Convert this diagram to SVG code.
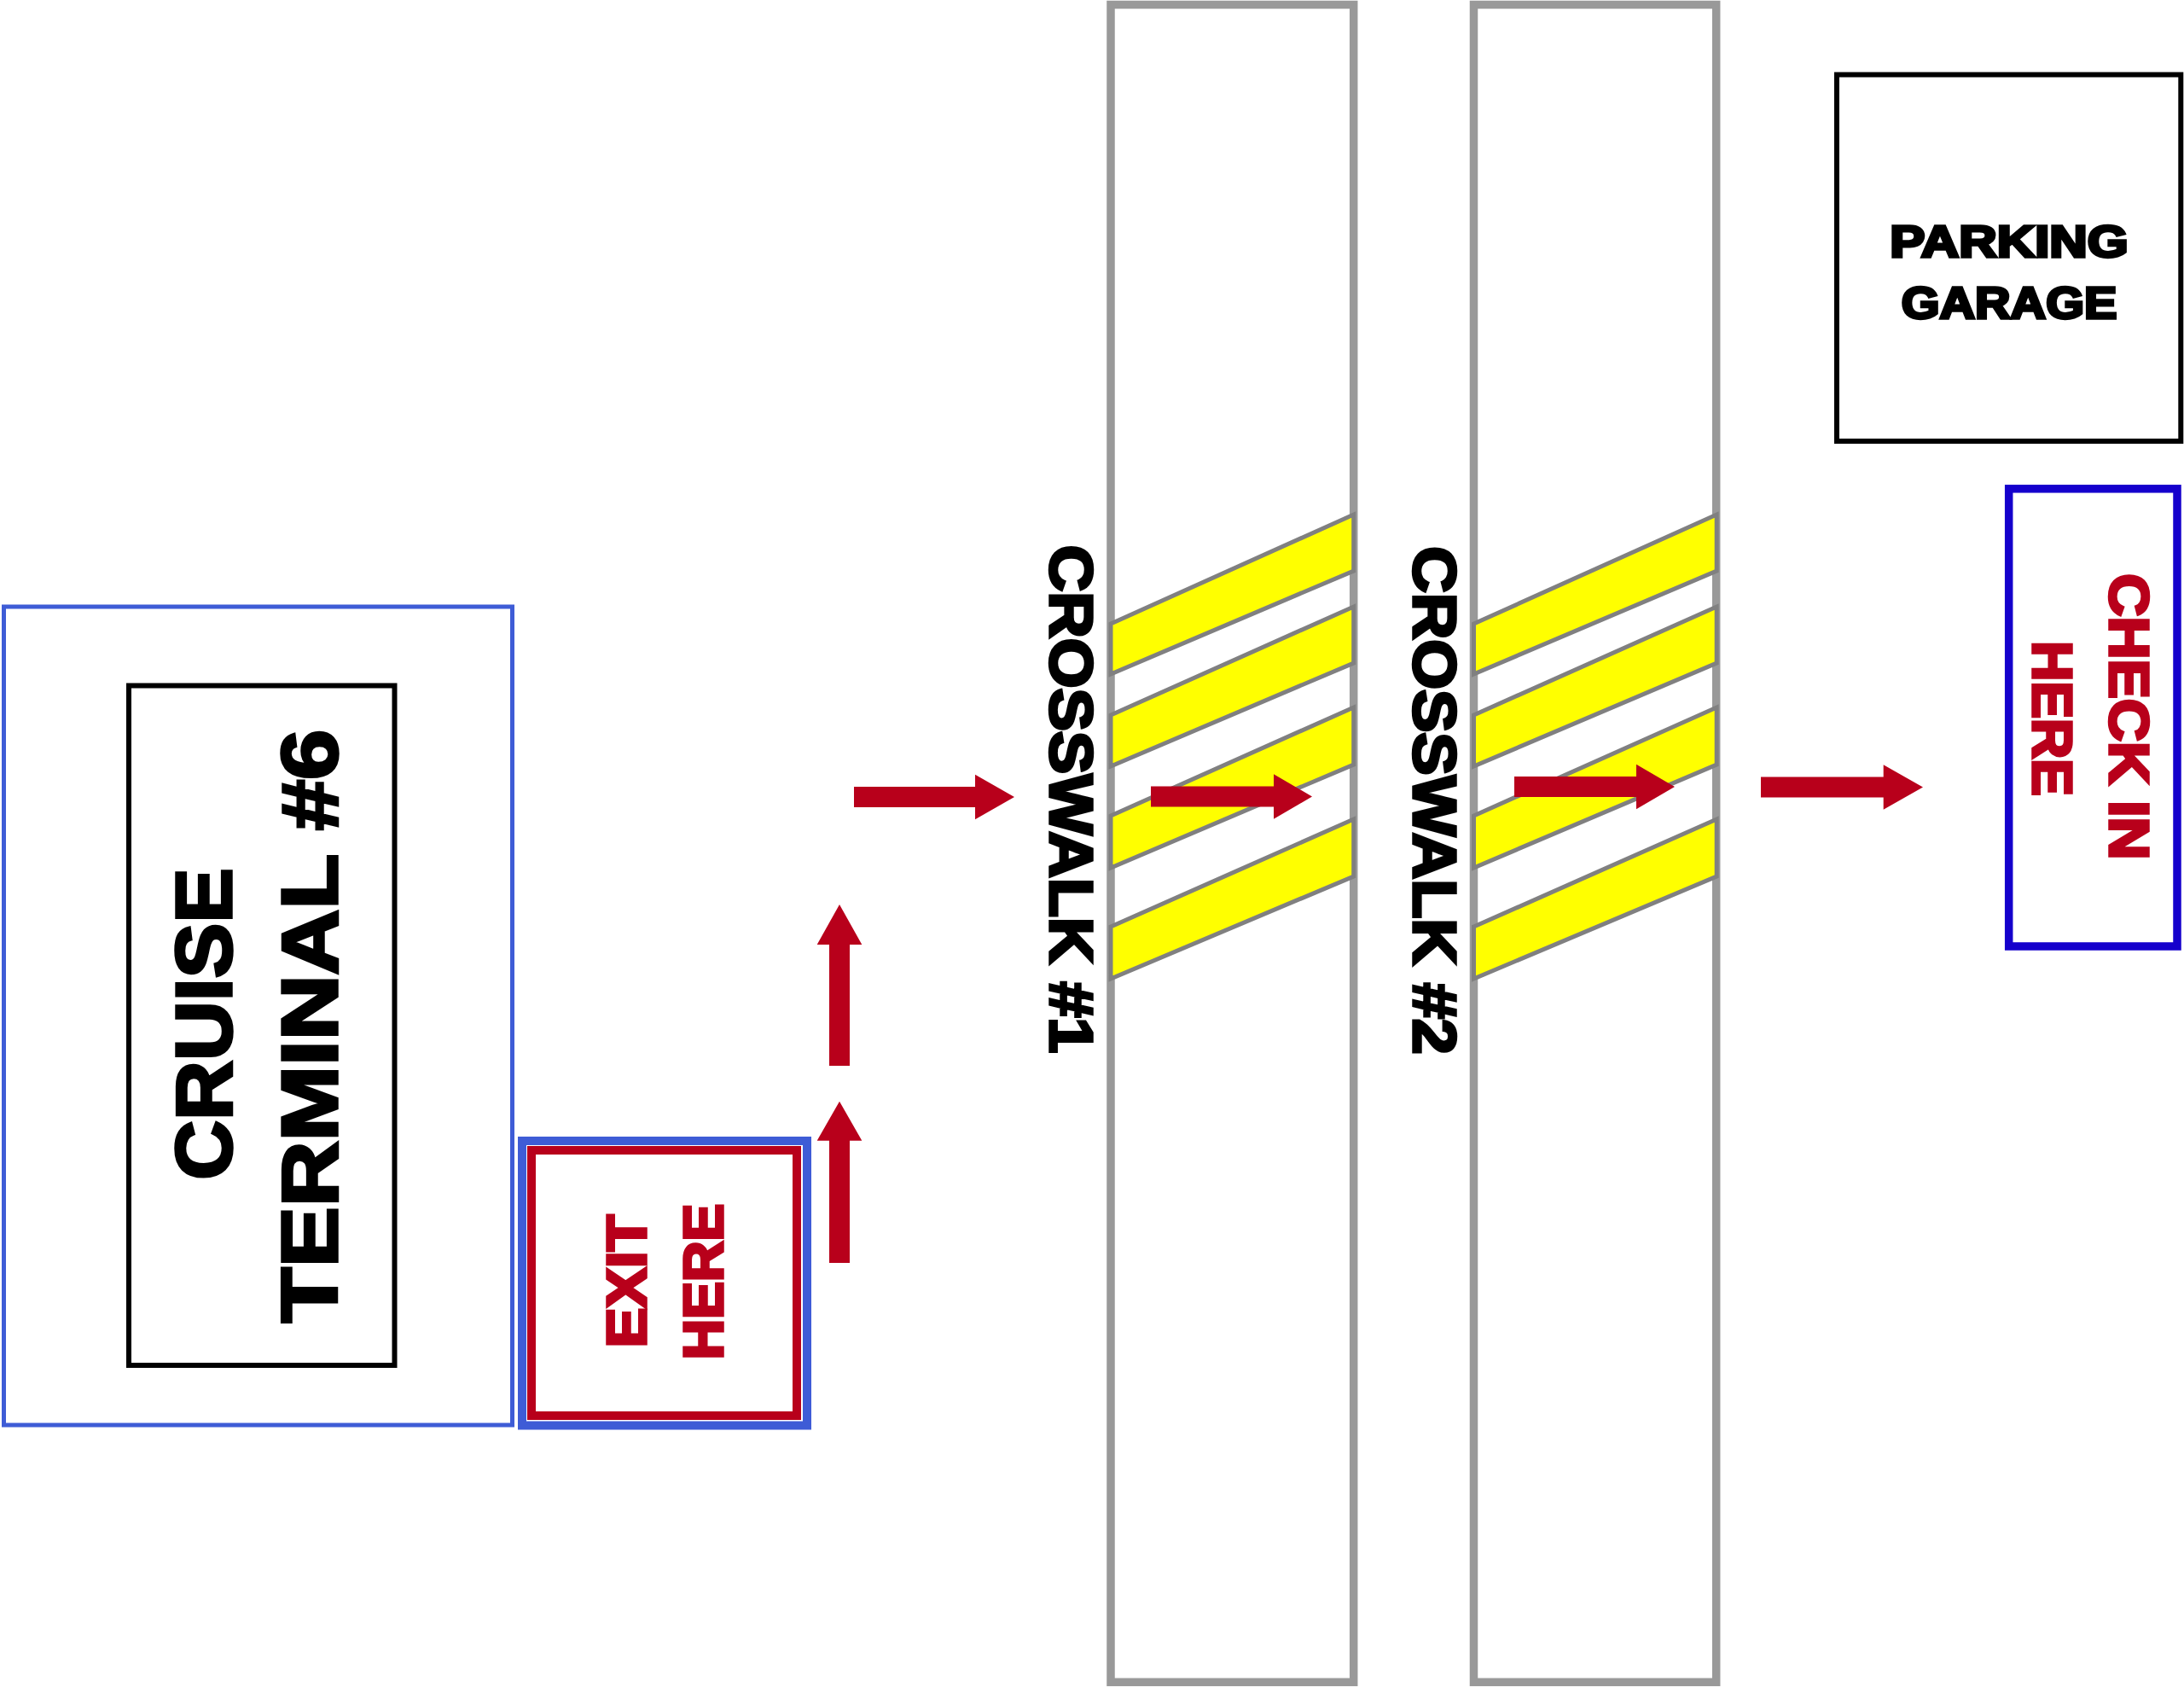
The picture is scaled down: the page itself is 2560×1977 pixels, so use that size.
<svg xmlns="http://www.w3.org/2000/svg" width="2560" height="1977" viewBox="0 0 2560 1977">
<defs>
<style>
.lbl{font-family:"Liberation Sans",Arial,sans-serif;font-weight:bold;stroke-width:3.5;stroke-linejoin:miter;stroke-miterlimit:3;text-anchor:middle}
.blk{fill:#000;stroke:#000}
.red{fill:#b8001b;stroke:#b8001b}
.walk{fill:#fff;stroke:#999;stroke-width:9.5}
.stripe{fill:#ffff00;stroke:#808080;stroke-width:5;stroke-linejoin:miter}
.arrow{fill:#b8001b}
</style>
<g id="stripes">
<polygon class="stripe" points="1302,731 1586.7,603 1586.7,669 1302,790"/>
<polygon class="stripe" points="1302,838 1586.7,711 1586.7,777 1302,898"/>
<polygon class="stripe" points="1302,956 1586.7,829 1586.7,896 1302,1017"/>
<polygon class="stripe" points="1302,1086 1586.7,960 1586.7,1027 1302,1147"/>
</g>
</defs>
<rect width="2560" height="1977" fill="#fff"/>

<g id="terminal">
<rect x="4.5" y="711" width="596" height="959" fill="#fff" stroke="#3e5cd6" stroke-width="5"/>
<rect x="151" y="803.5" width="311.5" height="796.5" fill="none" stroke="#000" stroke-width="6"/>
<text class="lbl blk" font-size="93.6" transform="translate(271,1200) rotate(-90)" textLength="365.5" lengthAdjust="spacingAndGlyphs">CRUISE</text>
<text class="lbl blk" font-size="93.6" transform="translate(395.4,1202.5) rotate(-90)" textLength="695.5" lengthAdjust="spacingAndGlyphs">TERMINAL #6</text>
</g>

<g id="exit">
<rect x="612" y="1337" width="334" height="333.5" fill="#fff" stroke="#3e5cd6" stroke-width="10"/>
<rect x="623" y="1348" width="311" height="311" fill="none" stroke="#b8001b" stroke-width="10"/>
<text class="lbl red" font-size="64.4" transform="translate(757.2,1501.5) rotate(-90)" textLength="155.5" lengthAdjust="spacingAndGlyphs">EXIT</text>
<text class="lbl red" font-size="64.4" transform="translate(847.2,1502) rotate(-90)" textLength="182.5" lengthAdjust="spacingAndGlyphs">HERE</text>
</g>

<g id="crosswalk1">
<rect class="walk" x="1302" y="5.5" width="284.7" height="1965.8"/>
<use href="#stripes"/>
<text class="lbl blk" font-size="69.5" transform="translate(1231,936.5) rotate(90)" textLength="595.5" lengthAdjust="spacingAndGlyphs">CROSSWALK #1</text>
</g>

<g id="crosswalk2">
<rect class="walk" x="1727.5" y="5.5" width="284.2" height="1965.8"/>
<use href="#stripes" transform="translate(425.5,0)"/>
<text class="lbl blk" font-size="69.5" transform="translate(1656.8,938) rotate(90)" textLength="595.5" lengthAdjust="spacingAndGlyphs">CROSSWALK #2</text>
</g>

<g id="parking">
<rect x="2153" y="87.5" width="403.3" height="429.5" fill="#fff" stroke="#000" stroke-width="6"/>
<text class="lbl blk" font-size="52.4" x="2355" y="301" textLength="279.5" lengthAdjust="spacingAndGlyphs">PARKING</text>
<text class="lbl blk" font-size="52.4" x="2355" y="373.2" textLength="252.5" lengthAdjust="spacingAndGlyphs">GARAGE</text>
</g>

<g id="checkin">
<rect x="2354.7" y="572.8" width="197.3" height="536.2" fill="#fff" stroke="#1500cc" stroke-width="9.5"/>
<text class="lbl red" font-size="64.4" transform="translate(2472.8,840) rotate(90)" textLength="335.5" lengthAdjust="spacingAndGlyphs">CHECK IN</text>
<text class="lbl red" font-size="64.4" transform="translate(2382.8,842) rotate(90)" textLength="181.5" lengthAdjust="spacingAndGlyphs">HERE</text>
</g>

<g id="connectors">
<polygon class="arrow" points="972,1480 996,1480 996,1336.7 1010.3,1336.7 984,1290.7 957.7,1336.7 972,1336.7"/>
<polygon class="arrow" points="972,1249 996,1249 996,1107 1010.3,1107 984,1060 957.7,1107 972,1107"/>
<polygon class="arrow" points="1001,922 1143,922 1143,907.7 1189,934 1143,960.3 1143,946 1001,946"/>
<polygon class="arrow" points="1349,921.5 1493,921.5 1493,907.2 1538,933.5 1493,959.8 1493,945.5 1349,945.5"/>
<polygon class="arrow" points="1775,910 1918,910 1918,895.7 1963,922 1918,948.3 1918,934 1775,934"/>
<polygon class="arrow" points="2064,910.5 2207.7,910.5 2207.7,896.2 2254,922.5 2207.7,948.8 2207.7,934.5 2064,934.5"/>
</g>
</svg>
